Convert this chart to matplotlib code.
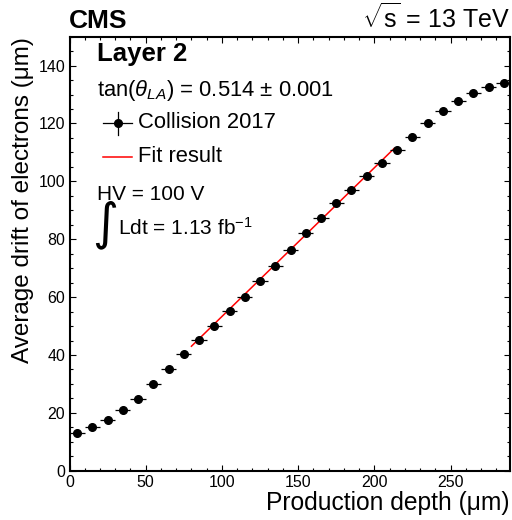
import numpy as np
import matplotlib
matplotlib.use("Agg")
import matplotlib.pyplot as plt
from matplotlib.lines import Line2D
from matplotlib.ticker import MultipleLocator

plt.rcParams['font.family'] = ['Liberation Sans', 'DejaVu Sans']
plt.rcParams['mathtext.fontset'] = 'custom'
plt.rcParams['mathtext.rm'] = 'Liberation Sans'
plt.rcParams['mathtext.it'] = 'Liberation Sans:italic'
plt.rcParams['mathtext.bf'] = 'Liberation Sans:bold'

# production depth bin centres (um) and average drift (um)
depth = [5, 15, 25, 35, 45, 55, 65, 75, 85, 95, 105, 115, 125, 135, 145,
         155, 165, 175, 185, 195, 205, 215, 225, 235, 245, 255, 265, 275, 285]
drift = [13.0, 15.0, 17.6, 20.9, 24.9, 30.1, 35.0, 40.2, 45.1, 50.0, 55.2,
         60.2, 65.6, 70.9, 76.3, 82.1, 87.2, 92.4, 97.1, 101.8, 106.5, 110.9,
         115.4, 120.0, 124.3, 127.8, 130.6, 132.6, 134.0]
depth_err = [5] * len(depth)

# linear fit result
fit_slope = 0.514
fit_offset = 1.9
fit_range = [80, 213]

W, H = 512, 520


def px(x, y):
    return x / W, 1 - y / H


fig = plt.figure(figsize=(W / 100, H / 100), dpi=100)
ax = fig.add_axes([69.5 / W, 1 - 470.7 / H, (510 - 69.5) / W, (470.7 - 36.7) / H])

ax.errorbar(depth, drift, xerr=depth_err, fmt='o', color='black',
            markersize=5.5, elinewidth=0.9, capsize=0, zorder=3)
fx = np.array(fit_range)
ax.plot(fx, fit_slope * fx + fit_offset, color='red', lw=1.1, zorder=2)

ax.set_xlim(0, 289)
ax.set_ylim(0, 150)
ax.xaxis.set_major_locator(MultipleLocator(50))
ax.xaxis.set_minor_locator(MultipleLocator(10))
ax.yaxis.set_major_locator(MultipleLocator(20))
ax.yaxis.set_minor_locator(MultipleLocator(5))
ax.tick_params(which='both', direction='in', top=True, right=True,
               labelsize=11.5, width=0.8, pad=3)
ax.tick_params(which='major', length=4)
ax.tick_params(which='minor', length=2)
for s in ax.spines.values():
    s.set_linewidth(1.5)

ax.set_xlabel('Production depth (\u03bcm)', fontsize=17.7, loc='right', labelpad=1)
ax.set_ylabel('Average drift of electrons (\u03bcm)', fontsize=17.5, loc='top', labelpad=3)

fig.text(*px(69, 28), 'CMS', fontsize=19, fontweight='bold', ha='left', va='baseline')
fig.text(*px(510, 28), r'$\sqrt{\mathrm{s}}$ = 13 TeV', fontsize=18, ha='right', va='baseline')

fig.text(*px(97, 61), 'Layer 2', fontsize=18.5, fontweight='bold', ha='left', va='baseline')
fig.text(*px(97, 96), r'tan($\theta_{LA}$) = 0.514 $\pm$ 0.001', fontsize=15.8,
         ha='left', va='baseline')

# legend entries
fig.add_artist(Line2D([103 / W, 132 / W], [1 - 123 / H] * 2, color='black', lw=0.9))
fig.add_artist(Line2D([117.5 / W] * 2, [1 - 112 / H, 1 - 135 / H], color='black', lw=0.9))
fig.add_artist(Line2D([117.5 / W], [1 - 123 / H], marker='o', color='black', markersize=5.5))
fig.text(*px(138, 123), 'Collision 2017', fontsize=15.8, ha='left', va='center')
fig.add_artist(Line2D([103 / W, 132 / W], [1 - 157 / H] * 2, color='red', lw=1.1))
fig.text(*px(138, 157), 'Fit result', fontsize=15.8, ha='left', va='center')

fig.text(*px(97, 195), 'HV = 100 V', fontsize=15, ha='left', va='center')
fig.text(*px(92, 225), '\u222b', fontsize=36, family='DejaVu Sans', ha='left', va='center')
fig.text(*px(118, 228), r'Ldt = 1.13 fb$^{-1}$', fontsize=15, ha='left', va='center')

fig.savefig('out.png', dpi=100)
